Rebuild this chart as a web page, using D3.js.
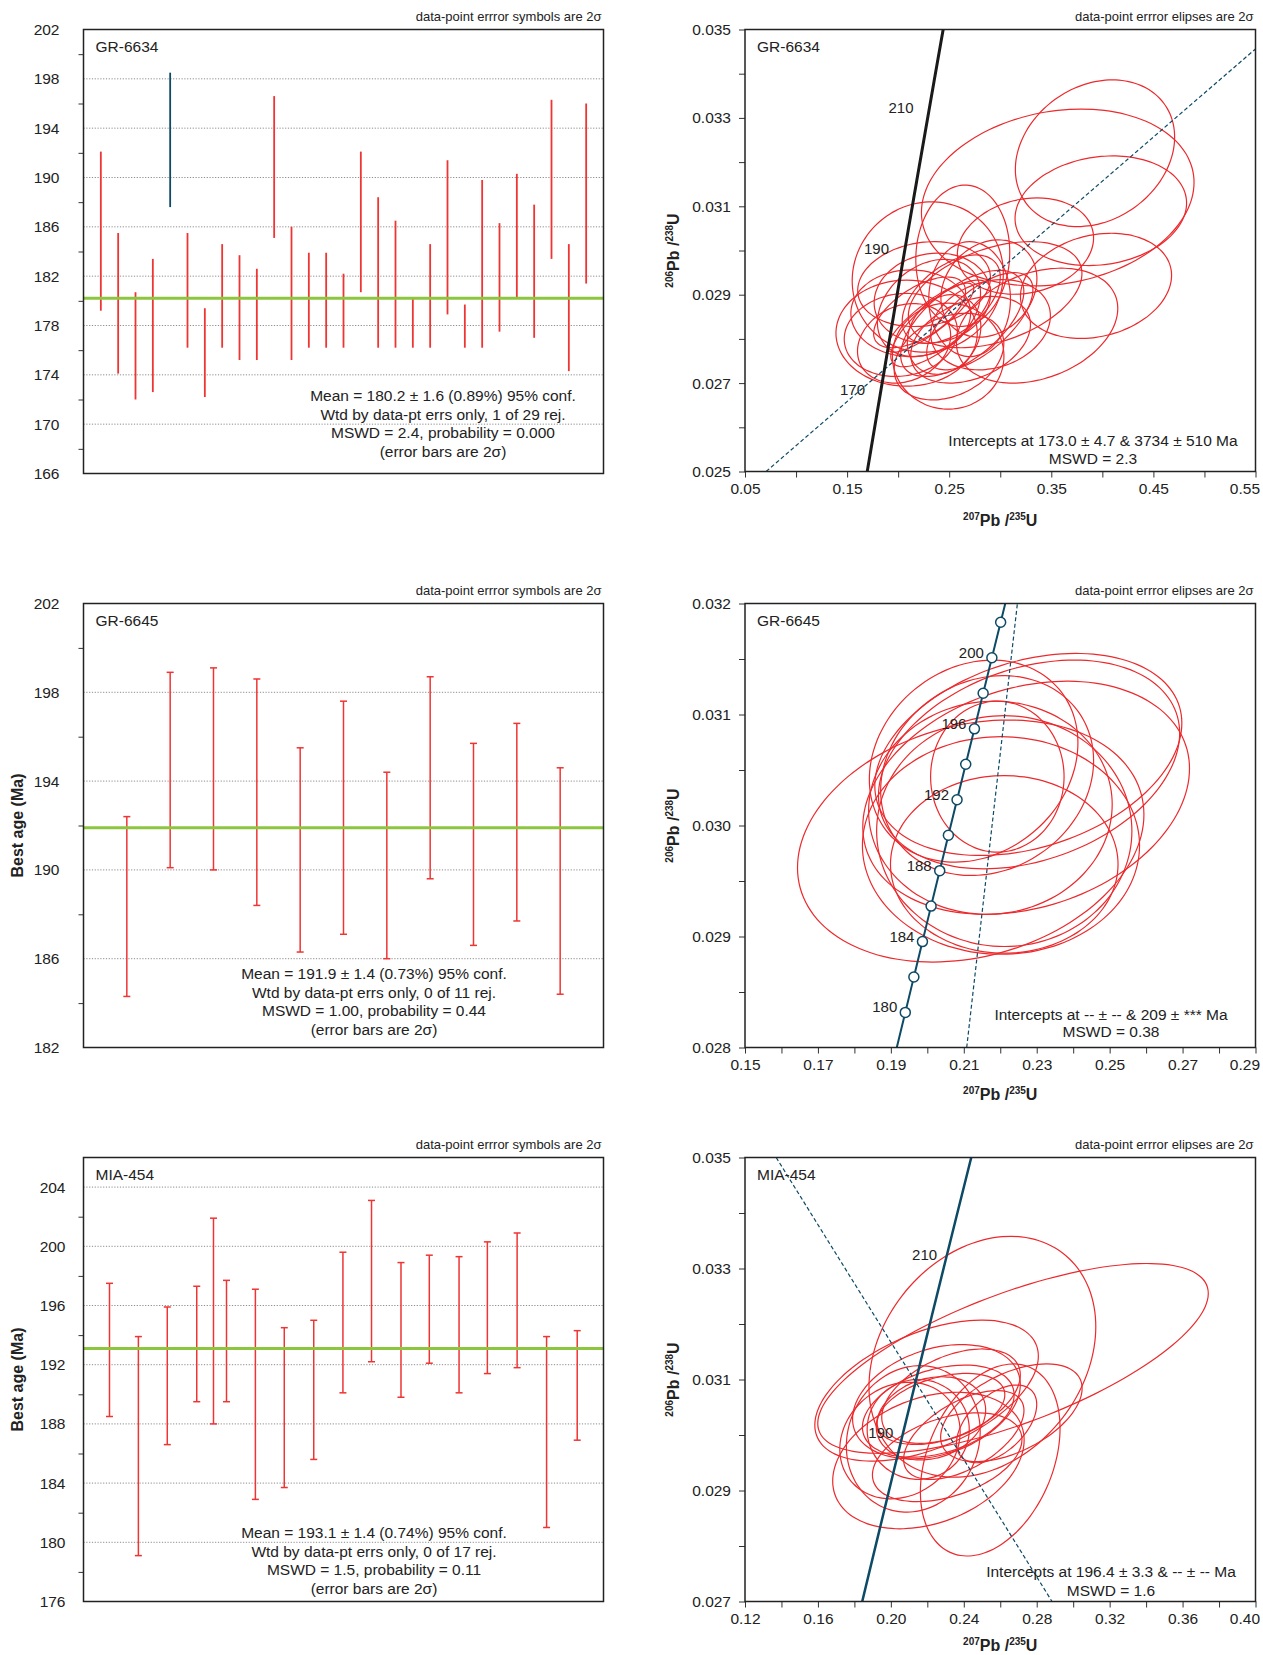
<!DOCTYPE html>
<html lang="en">
<head>
<meta charset="UTF-8">
<title>U-Pb weighted means and concordia</title>
<script src="https://cdn.jsdelivr.net/npm/d3@7"></script>
<style>
    body { margin: 0; background: #fff; }
    svg { display: block; font-family: "Liberation Sans", Arial, Helvetica, sans-serif; }
</style>
</head>
<body>
<svg id="chart" width="1263" height="1655"></svg>
<script>
// ---------- values ----------

// GR-6634 weighted mean (2 sigma bars, grain 5 rejected)
const gr6634Top = [192.1, 185.5, 180.7, 183.4, 198.5, 185.5, 179.4, 184.6, 183.7, 182.6, 196.6, 186.0, 183.9, 183.9, 182.2,
    192.1, 188.4, 186.5, 180.2, 184.6, 191.4, 179.7, 189.8, 186.3, 190.3, 187.8, 196.3, 184.6, 196.0];
const gr6634Bot = [179.2, 174.1, 172.0, 172.6, 187.6, 176.2, 172.2, 176.2, 175.2, 175.2, 185.1, 175.2, 176.2, 176.2, 176.2,
    180.7, 176.2, 176.2, 176.2, 176.2, 178.9, 176.2, 176.2, 177.5, 180.3, 177.0, 183.4, 174.3, 181.4];
const gr6634Rejected = [5];
const gr6634Mean = 180.2;
const gr6634Ticks = [166, 170, 174, 178, 182, 186, 190, 194, 198, 202];
const gr6634Minor = [168, 172, 176, 180, 184, 188, 192, 196, 200];
const gr6634Grid = [170, 174, 178, 182, 186, 190, 194, 198];
const gr6634Stats = ['Mean = 180.2 \u00b1 1.6 (0.89%) 95% conf.', 'Wtd by data-pt errs only, 1 of 29 rej.',
    'MSWD = 2.4, probability = 0.000', '(error bars are 2\u03c3)'];

// GR-6645
const gr6645Top = [192.4, 198.9, 199.1, 198.6, 195.5, 197.6, 194.4, 198.7, 195.7, 196.6, 194.6];
const gr6645Bot = [184.3, 190.1, 190.0, 188.4, 186.3, 187.1, 186.0, 189.6, 186.6, 187.7, 184.4];
const gr6645Mean = 191.9;
const gr6645Ticks = [182, 186, 190, 194, 198, 202];
const gr6645Minor = [184, 188, 192, 196, 200];
const gr6645Grid = [186, 190, 194, 198];
const gr6645Stats = ['Mean = 191.9 \u00b1 1.4 (0.73%) 95% conf.', 'Wtd by data-pt errs only, 0 of 11 rej.',
    'MSWD = 1.00, probability = 0.44', '(error bars are 2\u03c3)'];

// MIA-454
const mia454Pos = [0.9, 1.9, 2.9, 3.92, 4.5, 4.95, 5.95, 6.95, 7.97, 8.98, 9.97, 10.99, 11.97, 13.0, 13.98, 15.01, 16.03, 17.09];
const mia454Top = [197.5, 193.9, 195.9, 197.3, 201.9, 197.7, 197.1, 194.5, 195.0, 199.6, 203.1, 198.9, 199.4, 199.3, 200.3, 200.9, 193.9, 194.3];
const mia454Bot = [188.5, 179.1, 186.6, 189.5, 188.0, 189.5, 182.9, 183.7, 185.6, 190.1, 192.2, 189.8, 192.1, 190.1, 191.4, 191.8, 181.0, 186.9];
const mia454Mean = 193.1;
const mia454Ticks = [176, 180, 184, 188, 192, 196, 200, 204];
const mia454Minor = [178, 182, 186, 190, 194, 198, 202];
const mia454Grid = [180, 184, 188, 192, 196, 200, 204];
const mia454Stats = ['Mean = 193.1 \u00b1 1.4 (0.74%) 95% conf.', 'Wtd by data-pt errs only, 0 of 17 rej.',
    'MSWD = 1.5, probability = 0.11', '(error bars are 2\u03c3)'];

// concordia curve: age (Ma), 207Pb/235U, 206Pb/238U
const concAge = [155, 160, 170, 178, 180, 182, 184, 186, 188, 190, 192, 194, 196, 198, 200, 202, 204, 210, 220, 225];
const concX = [0.164919, 0.170670, 0.182256, 0.191608, 0.193957, 0.196312, 0.198669, 0.201033, 0.203402, 0.205774,
    0.208151, 0.210533, 0.212920, 0.215311, 0.217707, 0.220109, 0.222514, 0.229759, 0.241930, 0.248061];
const concY = [0.024335, 0.025131, 0.026722, 0.027997, 0.028316, 0.028635, 0.028954, 0.029274, 0.029593, 0.029912,
    0.030232, 0.030552, 0.030871, 0.031191, 0.031511, 0.031831, 0.032152, 0.033113, 0.034717, 0.035519];

// error ellipses: [207/235 centre, 206/238 centre, 2s x, 2s y, rho]
const ell6634 = [
    [0.3928, 0.0322, 0.078, 0.00166, 0.22], [0.3563, 0.0312, 0.1335, 0.0020, 0.17], [0.3985, 0.0309, 0.084, 0.00124, 0.14],
    [0.3938, 0.0292, 0.074, 0.00119, 0.20], [0.3247, 0.0301, 0.0667, 0.00109, 0.17], [0.2633, 0.02988, 0.046, 0.0016, 0.05],
    [0.3361, 0.0283, 0.079, 0.0013, 0.30], [0.2950, 0.0290, 0.085, 0.0012, 0.40], [0.2290, 0.0294, 0.074, 0.0017, 0.05],
    [0.2083, 0.02813, 0.0692, 0.0012, 0.0], [0.2490, 0.02761, 0.0546, 0.0012, 0.0], [0.2318, 0.02848, 0.0423, 0.00078, 0.85],
    [0.2417, 0.02835, 0.0489, 0.00098, 0.75], [0.2628, 0.02835, 0.0603, 0.0012, 0.60], [0.2889, 0.02914, 0.047, 0.0011, 0.20],
    [0.2254, 0.02924, 0.065, 0.00096, 0.15], [0.2302, 0.0287, 0.0505, 0.0011, 0.30], [0.2026, 0.02809, 0.0554, 0.00094, 0.10],
    [0.2058, 0.0279, 0.0456, 0.0009, 0.20], [0.2498, 0.0276, 0.0537, 0.00098, 0.30], [0.2710, 0.02798, 0.0586, 0.00098, 0.35],
    [0.2905, 0.02832, 0.0586, 0.00102, 0.20], [0.2335, 0.02892, 0.057, 0.00102, 0.10], [0.2123, 0.02858, 0.0586, 0.00098, 0.0],
    [0.2520, 0.0289, 0.048, 0.0010, 0.50], [0.2700, 0.0289, 0.040, 0.0013, 0.0], [0.2210, 0.0286, 0.045, 0.0008, 0.60],
    [0.2800, 0.0284, 0.052, 0.0011, 0.65], [0.2450, 0.0281, 0.036, 0.0009, 0.20]
];
const ell6645 = [
    [0.2127, 0.03058, 0.0286, 0.00091, 0.18], [0.2164, 0.03045, 0.0292, 0.00090, 0.15], [0.2277, 0.03064, 0.0421, 0.00091, 0.31],
    [0.2279, 0.03055, 0.0413, 0.00094, 0.30], [0.2271, 0.03025, 0.0448, 0.00105, 0.25], [0.2173, 0.03016, 0.0334, 0.00096, 0.03],
    [0.2211, 0.02995, 0.0350, 0.00104, 0.0], [0.2202, 0.02982, 0.0380, 0.00098, 0.0], [0.2211, 0.02965, 0.0312, 0.00080, 0.0],
    [0.2192, 0.03044, 0.0183, 0.00068, 0.0], [0.2119, 0.02986, 0.0475, 0.00109, 0.22]
];
const ell454 = [
    [0.2502, 0.03141, 0.0622, 0.00217, 0.25], [0.2670, 0.03138, 0.1071, 0.00171, 0.685], [0.2545, 0.02955, 0.0383, 0.00173, 0.33],
    [0.2196, 0.0308, 0.0613, 0.00127, 0.49], [0.2661, 0.0304, 0.0388, 0.00088, 0.50], [0.2206, 0.02954, 0.0525, 0.00123, 0.30],
    [0.2123, 0.02993, 0.0367, 0.00132, 0.10], [0.2309, 0.0296, 0.041, 0.0008, 0.40], [0.2250, 0.0306, 0.046, 0.00103, 0.30],
    [0.2260, 0.03043, 0.0416, 0.00083, 0.35], [0.2275, 0.03047, 0.035, 0.00064, 0.40], [0.2580, 0.0302, 0.022, 0.0007, 0.50],
    [0.2220, 0.0303, 0.030, 0.00075, 0.20], [0.2330, 0.0307, 0.038, 0.00085, 0.45], [0.2150, 0.0301, 0.028, 0.0009, 0.0],
    [0.2400, 0.0300, 0.033, 0.0008, 0.55], [0.2050, 0.0299, 0.033, 0.00105, 0.15]
];

// discordia chords (two end points each)
const disc6634 = [[0.0707, 0.025], [0.55, 0.03456]];
const disc6645 = [[0.2108, 0.028], [0.2247, 0.032]];
const disc454 = [[0.1371, 0.035], [0.2884, 0.027]];

// ---------- drawing ----------
const svg = d3.select('#chart');
const RED = '#ec2a2d';
const TEAL = '#0d4a66';

function styleAxis(ax, fs) {
    ax.select('.domain').remove();
    ax.attr('font-family', null).attr('font-size', null);
    ax.selectAll('.tick line').attr('stroke', '#333');
    ax.selectAll('.tick text').attr('fill', '#222').style('font-size', fs + 'px');
}

function isoTitle(g, x, y, top, bottom, rotate) {
    const t = g.append('text')
        .attr('transform', `translate(${x},${y})` + (rotate ? ' rotate(-90)' : ''))
        .attr('text-anchor', 'middle')
        .attr('font-weight', 'bold')
        .attr('fill', '#222');
    t.append('tspan').attr('font-size', 10).attr('dy', -6).text(top[0]);
    t.append('tspan').attr('font-size', 16).attr('dy', 6).text('Pb /');
    t.append('tspan').attr('font-size', 10).attr('dy', -6).text(bottom[0]);
    t.append('tspan').attr('font-size', 16).attr('dy', 6).text('U');
}

function drawAgePanel(p) {
    const g = svg.append('g');
    const x = d3.scaleLinear(p.xDomain, [p.x0, p.x1]);
    const y = d3.scaleLinear(p.yDomain, [p.y1, p.y0]);

    g.selectAll(null).data(p.grid).enter().append('line')
        .attr('x1', p.x0).attr('x2', p.x1)
        .attr('y1', d => y(d)).attr('y2', d => y(d))
        .attr('stroke', '#8c8c8c').attr('stroke-width', 1).attr('stroke-dasharray', '1.2,1.6');

    const minor = g.append('g').attr('transform', `translate(${p.x0},0)`)
        .call(d3.axisLeft(y).tickValues(p.minor).tickSize(5).tickFormat(''));
    styleAxis(minor, 15.5);
    const major = g.append('g').attr('transform', `translate(${p.x0},0)`)
        .call(d3.axisLeft(y).tickValues(p.ticks).tickSize(0).tickPadding(p.labelPad).tickFormat(d3.format('d')));
    styleAxis(major, 15.5);

    const rows = p.top.map((t, i) => ({
        x: p.pos ? p.pos[i] : i + 1, top: t, bot: p.bot[i], rej: (p.rejected || []).includes(i + 1)
    }));
    const bars = g.selectAll(null).data(rows).enter().append('g')
        .attr('stroke', d => d.rej ? TEAL : '#ef3434')
        .attr('stroke-width', p.cap ? 1.5 : 1.8);
    bars.append('line')
        .attr('x1', d => x(d.x)).attr('x2', d => x(d.x))
        .attr('y1', d => y(d.top)).attr('y2', d => y(d.bot));
    if (p.cap) {
        ['top', 'bot'].forEach(k => {
            bars.append('line')
                .attr('x1', d => x(d.x) - 3.5).attr('x2', d => x(d.x) + 3.5)
                .attr('y1', d => y(d[k])).attr('y2', d => y(d[k]));
        });
    }

    g.append('line')
        .attr('x1', p.x0).attr('x2', p.x1)
        .attr('y1', y(p.mean)).attr('y2', y(p.mean))
        .attr('stroke', '#8cc63f').attr('stroke-width', 3);

    g.append('rect')
        .attr('x', p.x0).attr('y', p.y0).attr('width', p.x1 - p.x0).attr('height', p.y1 - p.y0)
        .attr('fill', 'none').attr('stroke', '#222').attr('stroke-width', 1.5);

    g.append('text').attr('x', p.x1 - 2).attr('y', p.y0 - 9)
        .attr('text-anchor', 'end').attr('font-size', 13).attr('fill', '#222')
        .text('data-point errror symbols are 2\u03c3');
    g.append('text').attr('x', p.x0 + 12).attr('y', p.y0 + 22.5)
        .attr('font-size', 15.5).attr('fill', '#222').text(p.name);

    g.selectAll(null).data(p.stats).enter().append('text')
        .attr('x', p.statX).attr('y', (d, i) => p.statY[i])
        .attr('text-anchor', 'middle').attr('font-size', 15.5).attr('fill', '#222')
        .text(d => d);

    if (p.yTitle) {
        g.append('text')
            .attr('transform', `translate(23,${(p.y0 + p.y1) / 2}) rotate(-90)`)
            .attr('text-anchor', 'middle').attr('font-weight', 'bold').attr('font-size', 16).attr('fill', '#222')
            .text(p.yTitle);
    }
}

function ellipsePath(e, x, y) {
    const [cx, cy, sx, sy, r] = e;
    const pts = d3.range(72).map(i => {
        const t = i / 72 * 2 * Math.PI;
        return [x(cx + sx * Math.cos(t)), y(cy + sy * (r * Math.cos(t) + Math.sqrt(1 - r * r) * Math.sin(t)))];
    });
    return d3.line().curve(d3.curveCardinalClosed)(pts);
}

function drawConcordiaPanel(p) {
    const g = svg.append('g');
    const x = d3.scaleLinear(p.xDomain, [p.x0, p.x1]);
    const y = d3.scaleLinear(p.yDomain, [p.y1, p.y0]);

    const clipId = 'clip-' + p.name;
    g.append('clipPath').attr('id', clipId).append('rect')
        .attr('x', p.x0).attr('y', p.y0).attr('width', p.x1 - p.x0).attr('height', p.y1 - p.y0);
    const inner = g.append('g').attr('clip-path', `url(#${clipId})`);

    inner.selectAll(null).data(p.ellipses).enter().append('path')
        .attr('d', d => ellipsePath(d, x, y))
        .attr('fill', 'none').attr('stroke', RED).attr('stroke-width', 1.2);

    inner.append('path')
        .attr('d', d3.line().x(d => x(d[0])).y(d => y(d[1]))(p.disc))
        .attr('fill', 'none').attr('stroke', TEAL).attr('stroke-width', 1.2).attr('stroke-dasharray', '4,2.5');

    const conc = concAge.map((a, i) => [concX[i], concY[i]]);
    inner.append('path')
        .attr('d', d3.line().curve(d3.curveNatural).x(d => x(d[0])).y(d => y(d[1]))(conc))
        .attr('fill', 'none').attr('stroke', p.concColor).attr('stroke-width', p.concWidth);

    const idx = a => concAge.indexOf(a);
    inner.selectAll(null).data(p.dots || []).enter().append('circle')
        .attr('cx', a => x(concX[idx(a)])).attr('cy', a => y(concY[idx(a)])).attr('r', 5)
        .attr('fill', '#fff').attr('stroke', TEAL).attr('stroke-width', 1.5);

    inner.selectAll(null).data(p.ageLabels).enter().append('text')
        .attr('x', a => x(concX[idx(a)]) + p.labelDx).attr('y', a => y(concY[idx(a)]) + p.labelDy)
        .attr('text-anchor', 'end').attr('font-size', 15).attr('fill', '#222')
        .text(a => a);

    const yMinor = g.append('g').attr('transform', `translate(${p.x0},0)`)
        .call(d3.axisLeft(y).tickValues(p.yMinor).tickSize(6).tickFormat(''));
    styleAxis(yMinor, 15);
    const yAx = g.append('g').attr('transform', `translate(${p.x0},0)`)
        .call(d3.axisLeft(y).tickValues(p.yTicks).tickSize(6).tickPadding(8).tickFormat(d3.format('.3f')));
    styleAxis(yAx, 15.5);
    const xMinor = g.append('g').attr('transform', `translate(0,${p.y1})`)
        .call(d3.axisBottom(x).tickValues(p.xMinor).tickSize(6).tickFormat(''));
    styleAxis(xMinor, 15);
    const xAx = g.append('g').attr('transform', `translate(0,${p.y1})`)
        .call(d3.axisBottom(x).tickValues(p.xTicks).tickSize(6).tickPadding(5).tickFormat(d3.format('.2f')));
    styleAxis(xAx, 15.5);
    // last label is pulled inside the page edge, as in the original
    xAx.selectAll('.tick').filter((d, i, n) => i === n.length - 1).select('text')
        .attr('text-anchor', 'end').attr('x', 4);

    g.append('rect')
        .attr('x', p.x0).attr('y', p.y0).attr('width', p.x1 - p.x0).attr('height', p.y1 - p.y0)
        .attr('fill', 'none').attr('stroke', '#222').attr('stroke-width', 1.5);

    g.append('text').attr('x', p.x1 - 2).attr('y', p.y0 - 9)
        .attr('text-anchor', 'end').attr('font-size', 13).attr('fill', '#222')
        .text('data-point errror elipses are 2\u03c3');
    g.append('text').attr('x', p.x0 + 12).attr('y', p.y0 + 22.5)
        .attr('font-size', 15.5).attr('fill', '#222').text(p.name);

    g.selectAll(null).data(p.stats).enter().append('text')
        .attr('x', p.statX).attr('y', (d, i) => p.statY[i])
        .attr('text-anchor', 'middle').attr('font-size', 15.5).attr('fill', '#222')
        .text(d => d);

    isoTitle(g, (p.x0 + p.x1) / 2, p.y1 + p.titleDy, ['207'], ['235'], false);
    isoTitle(g, 679, (p.y0 + p.y1) / 2, ['206'], ['238'], true);
}

// left column: weighted mean ages
const L = { x0: 83.5, x1: 603.5 };
const R = { x0: 745, x1: 1255.5 };

drawAgePanel({ ...L, y0: 29.5, y1: 473.5, name: 'GR-6634', xDomain: [0, 30], yDomain: [166, 202],
    top: gr6634Top, bot: gr6634Bot, rejected: gr6634Rejected, mean: gr6634Mean,
    ticks: gr6634Ticks, minor: gr6634Minor, grid: gr6634Grid, labelPad: 24, cap: false,
    stats: gr6634Stats, statX: 443, statY: [401, 419.5, 438, 457] });

drawAgePanel({ ...L, y0: 603.5, y1: 1047.5, name: 'GR-6645', xDomain: [0, 12], yDomain: [182, 202],
    top: gr6645Top, bot: gr6645Bot, mean: gr6645Mean,
    ticks: gr6645Ticks, minor: gr6645Minor, grid: gr6645Grid, labelPad: 24, cap: true,
    stats: gr6645Stats, statX: 374, statY: [979, 998, 1016, 1035], yTitle: 'Best age (Ma)' });

drawAgePanel({ ...L, y0: 1157.5, y1: 1601.5, name: 'MIA-454', xDomain: [0, 18], yDomain: [176, 206],
    pos: mia454Pos, top: mia454Top, bot: mia454Bot, mean: mia454Mean,
    ticks: mia454Ticks, minor: mia454Minor, grid: mia454Grid, labelPad: 18, cap: true,
    stats: mia454Stats, statX: 374, statY: [1538, 1556.5, 1575, 1594], yTitle: 'Best age (Ma)' });

// right column: concordia diagrams
drawConcordiaPanel({ ...R, y0: 29.5, y1: 471.5, name: 'GR-6634', xDomain: [0.05, 0.55], yDomain: [0.025, 0.035],
    ellipses: ell6634, disc: disc6634, concColor: '#1a1a1a', concWidth: 3, titleDy: 54,
    ageLabels: [170, 190, 210], labelDx: -15, labelDy: 0,
    xTicks: [0.05, 0.15, 0.25, 0.35, 0.45, 0.55], xMinor: [0.10, 0.20, 0.30, 0.40, 0.50],
    yTicks: [0.025, 0.027, 0.029, 0.031, 0.033, 0.035], yMinor: [0.026, 0.028, 0.030, 0.032, 0.034],
    stats: ['Intercepts at 173.0 \u00b1 4.7 & 3734 \u00b1 510 Ma', 'MSWD = 2.3'], statX: 1093, statY: [446, 464] });

drawConcordiaPanel({ ...R, y0: 603.5, y1: 1047.5, name: 'GR-6645', xDomain: [0.15, 0.29], yDomain: [0.028, 0.032],
    ellipses: ell6645, disc: disc6645, concColor: TEAL, concWidth: 2, titleDy: 52,
    dots: [180, 182, 184, 186, 188, 190, 192, 194, 196, 198, 200, 202],
    ageLabels: [180, 184, 188, 192, 196, 200], labelDx: -8, labelDy: 0,
    xTicks: [0.15, 0.17, 0.19, 0.21, 0.23, 0.25, 0.27, 0.29], xMinor: [0.16, 0.18, 0.20, 0.22, 0.24, 0.26, 0.28],
    yTicks: [0.028, 0.029, 0.030, 0.031, 0.032], yMinor: [0.0285, 0.0295, 0.0305, 0.0315],
    stats: ['Intercepts at -- \u00b1 -- & 209 \u00b1 *** Ma', 'MSWD = 0.38'], statX: 1111, statY: [1020, 1037] });

drawConcordiaPanel({ ...R, y0: 1157.5, y1: 1601.5, name: 'MIA-454', xDomain: [0.12, 0.40], yDomain: [0.027, 0.035],
    ellipses: ell454, disc: disc454, concColor: TEAL, concWidth: 2.5, titleDy: 49,
    ageLabels: [190, 210], labelDx: -8, labelDy: -2,
    xTicks: [0.12, 0.16, 0.20, 0.24, 0.28, 0.32, 0.36, 0.40], xMinor: [0.14, 0.18, 0.22, 0.26, 0.30, 0.34, 0.38],
    yTicks: [0.027, 0.029, 0.031, 0.033, 0.035], yMinor: [0.028, 0.030, 0.032, 0.034],
    stats: ['Intercepts at 196.4 \u00b1 3.3 & -- \u00b1 -- Ma', 'MSWD = 1.6'], statX: 1111, statY: [1577, 1596] });
</script>
</body>
</html>
